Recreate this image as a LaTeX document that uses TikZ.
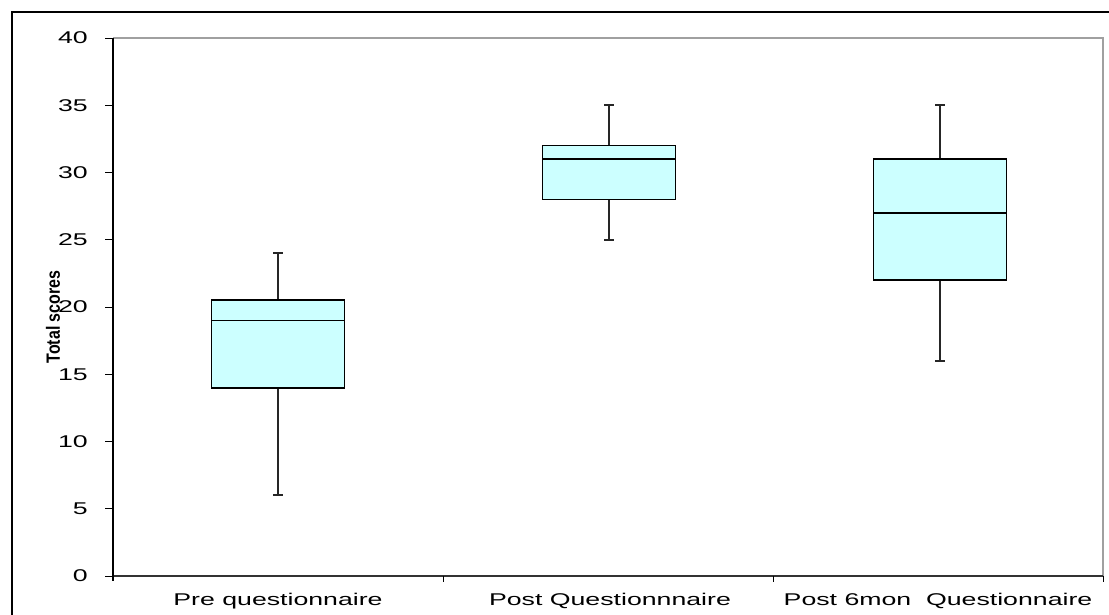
\documentclass[tikz,border=0pt]{standalone}
\usepackage{fontspec}
\setmainfont{Liberation Sans}
\definecolor{boxfill}{HTML}{CCFFFF}
\definecolor{framegray}{HTML}{A0A0A0}
\begin{document}
\begin{tikzpicture}[x=1pt,y=-1pt,
  lbl/.style={inner sep=0pt,font=\fontsize{17}{20}\selectfont},
  boxst/.style={draw=black,line width=1.6pt,fill=boxfill},
  whisk/.style={draw=black!85,line width=1.8pt},
  tickst/.style={draw=black,line width=1pt}]
\useasboundingbox (0,0) rectangle (1109,614);
\fill[white] (0,0) rectangle (1109,614);
% outer frame (extends beyond the page on right and bottom)
\draw[line width=1.4pt] (12,630) -- (12,12) -- (1120,12);
% plot area
\def\Y#1{576-13.45*#1}
\draw[framegray,line width=1.8pt] (113,38) -- (1103,38) -- (1103,576);
\draw[black!80,line width=1.6pt] (113,576) -- (1103,576);
\draw[black,line width=1.4pt] (113,38) -- (113,581);
% y ticks and labels
\foreach \v in {0,5,...,40}{
  \draw[tickst] (105,{\Y{\v}}) -- (113,{\Y{\v}});
  \node[lbl,anchor=east] (yl\v) at (88,{\Y{\v}}) {\scalebox{1.57}[1]{\v}};
}
% x category ticks
\foreach \x in {443,773,1103}{
  \draw[tickst] (\x,576) -- (\x,582);
}
% category labels
\node[lbl,anchor=base] (c1) at (278,605) {\scalebox{1.57}[1]{Pre questionnaire}};
\node[lbl,anchor=base] (c2) at (610,605) {\scalebox{1.57}[1]{Post Questionnnaire}};
\node[lbl,anchor=base] (c3) at (938,605) {\scalebox{1.57}[1]{Post 6mon\ \ Questionnaire}};
% y axis title
\node[inner sep=0pt,rotate=90,font=\fontsize{16}{18}\selectfont\bfseries] (yt) at (53,317) {\scalebox{1}[1.2]{Total scores}};
% boxes: center, min, q1, median, q3, max
\foreach \n/\cx/\mn/\qa/\md/\qc/\mx in {b1/278/6/14/19/20.5/24, b2/609/25/28/31/32/35, b3/940/16/22/27/31/35}{
  \coordinate (\n top) at (\cx,{\Y{\mx}});
  \coordinate (\n bot) at (\cx,{\Y{\mn}});
  \coordinate (\n q3) at (\cx,{\Y{\qc}});
  \coordinate (\n q1) at (\cx,{\Y{\qa}});
  \draw[whisk] (\n q3) -- (\n top);
  \draw[whisk] (\n q1) -- (\n bot);
  \draw[whisk] ([xshift=-5]\n top) -- ([xshift=5]\n top);
  \draw[whisk] ([xshift=-5]\n bot) -- ([xshift=5]\n bot);
  \draw[boxst] ({\cx-66.5},{\Y{\qc}}) rectangle ({\cx+66.5},{\Y{\qa}});
  \draw[black,line width=1.6pt] ({\cx-66.5},{\Y{\md}}) -- ({\cx+66.5},{\Y{\md}});
}
\end{tikzpicture}
\end{document}
